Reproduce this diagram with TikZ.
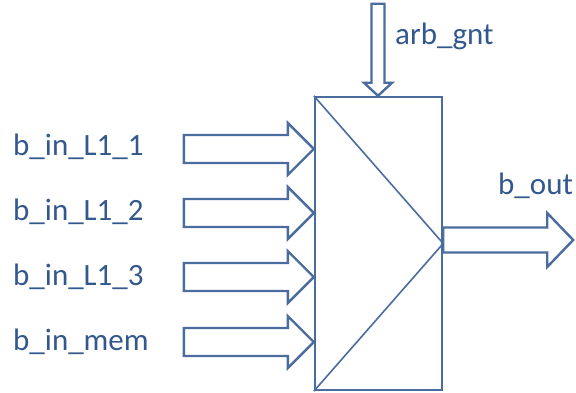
\documentclass[tikz,border=0pt]{standalone}
\usepackage{fontspec}
\setmainfont{Carlito}
\definecolor{edge}{RGB}{74,108,158}
\definecolor{lbl}{RGB}{50,88,142}
\tikzset{
  barrow/.style={draw=edge, line width=2.4pt, fill=white, line join=miter},
  % block arrow: length, shaft half-width, head half-width, head length
  pics/blockarrow/.style n args={4}{code={
    \draw[barrow] (0,-#2) -- (#1-#4,-#2) -- (#1-#4,-#3) -- (#1,0)
      -- (#1-#4,#3) -- (#1-#4,#2) -- (0,#2) -- cycle;
  }},
  sig/.style={text=lbl, inner sep=0pt, anchor=base west,
    font=\fontsize{31}{35}\selectfont},
  muxbox/.style={draw=edge, line width=2.4pt, minimum width=127pt,
    minimum height=293pt, inner sep=0pt}
}
\begin{document}
\begin{tikzpicture}[x=1pt, y=-1pt]
\useasboundingbox (0,0) rectangle (576,393);

% multiplexer body
\node[muxbox] (mux) at (378.5,243.5) {};
\draw[edge, line width=1.6pt] (mux.north west) -- (mux.east) -- (mux.south west);

% input ports
\coordinate (i1) at (mux.west |- 0,149);
\coordinate (i2) at (mux.west |- 0,213);
\coordinate (i3) at (mux.west |- 0,277);
\coordinate (i4) at (mux.west |- 0,342);
\foreach \p in {i1,i2,i3,i4}
  \pic at ([xshift=-130pt]\p) {blockarrow={130}{14}{26}{26}};

% grant input from above
\coordinate (g) at (mux.north -| 378,0);
\pic[rotate=-90] at ([yshift=92pt]g) {blockarrow={92}{6.5}{14}{13}};

% output
\coordinate (o) at (mux.east |- 0,240);
\pic at (o) {blockarrow={130}{12.5}{27}{26}};

% signal names
\node[sig] (l1) at (13,156) {b\_in\_L1\_1};
\node[sig] (l2) at (13,221) {b\_in\_L1\_2};
\node[sig] (l3) at (13,285) {b\_in\_L1\_3};
\node[sig] (l4) at (13,350) {b\_in\_mem};
\node[sig] (lg) at (395,45) {arb\_gnt};
\node[sig] (lo) at (498,195) {b\_out};
\end{tikzpicture}
\end{document}
